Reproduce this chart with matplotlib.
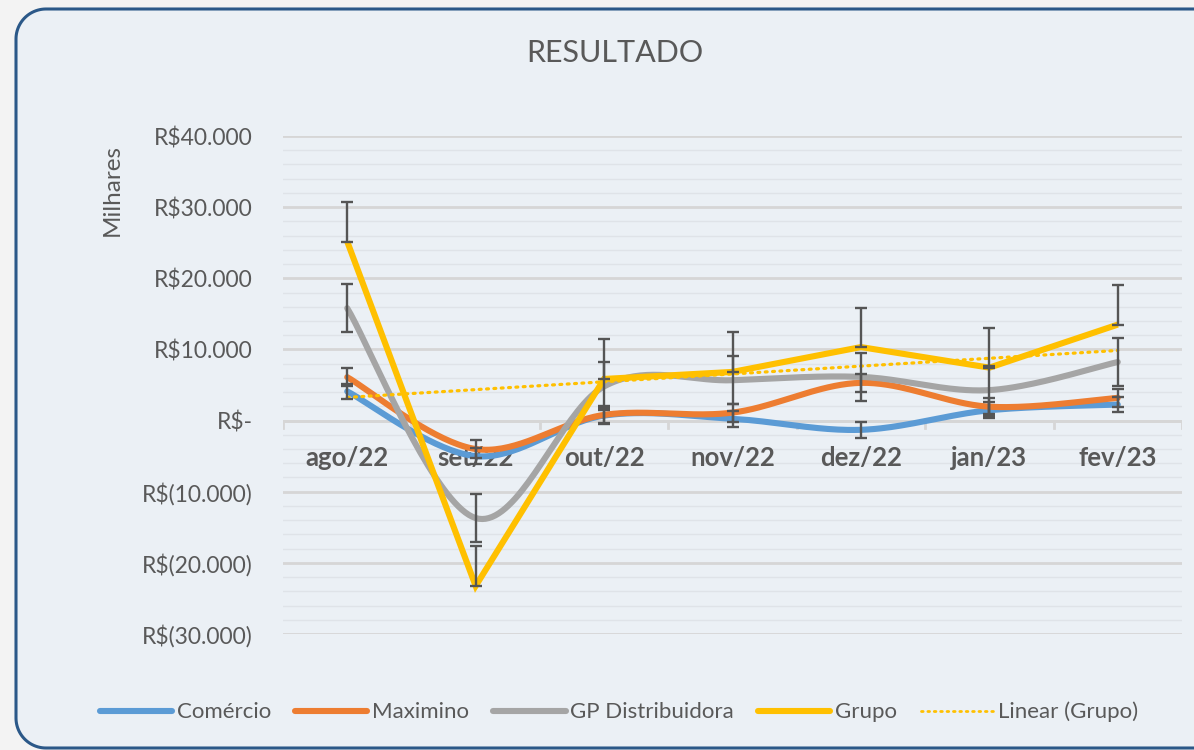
import numpy as np
import matplotlib
matplotlib.use("Agg")
import matplotlib.pyplot as plt
from matplotlib.patches import PathPatch
from matplotlib.path import Path
from matplotlib.lines import Line2D
from matplotlib.ticker import FuncFormatter, MultipleLocator

plt.rcParams['font.family'] = ['Lato', 'DejaVu Sans']

# ---------------- data ----------------
categories = ["ago/22", "set/22", "out/22", "nov/22", "dez/22", "jan/23", "fev/23"]
comercio = [4100, -5000, 700, 250, -1300, 1450, 2250]
maximino = [6100, -4000, 800, 1120, 5300, 1950, 3200]
gp_distribuidora = [15800, -13700, 4800, 5670, 6140, 4280, 8230]
grupo = [25170, -23250, 5850, 6840, 10330, 7440, 13490]
series_names = ["Comércio", "Maximino", "GP Distribuidora", "Grupo"]
series_colors = ["#5b9bd5", "#ed7d31", "#a5a5a5", "#ffc000"]
yticks = [-30000, -20000, -10000, 0, 10000, 20000, 30000, 40000]

TXT = "#595959"


def fmt(v, pos=None):
    if v == 0:
        return "R$-"
    s = f"{abs(int(v)):,}".replace(",", ".")
    return f"R${s}" if v > 0 else f"R$({s})"


def smooth(xs, ys, n=40):
    """Excel-like smoothed line: cubic Bezier with Catmull-Rom control points."""
    xs = np.asarray(xs, float)
    ys = np.asarray(ys, float)
    P = np.column_stack([xs, ys])
    out = []
    for i in range(len(P) - 1):
        p0 = P[i - 1] if i > 0 else P[i]
        p1 = P[i]
        p2 = P[i + 1]
        p3 = P[i + 2] if i + 2 < len(P) else P[i + 1]
        c1 = p1 + (p2 - p0) / 6.0
        c2 = p2 - (p3 - p1) / 6.0
        t = np.linspace(0, 1, n)[:, None]
        seg = ((1 - t) ** 3) * p1 + 3 * ((1 - t) ** 2) * t * c1 + 3 * (1 - t) * t ** 2 * c2 + t ** 3 * p2
        out.append(seg if i == 0 else seg[1:])
    out = np.vstack(out)
    return out[:, 0], out[:, 1]


def open_box(x0, y0, x1, y1, r):
    """Left part of a rounded frame (pixel coords, y down); right side runs off the canvas."""
    pts = [(x1, y0)]
    for a in np.linspace(1.5 * np.pi, np.pi, 24):      # top-left corner
        pts.append((x0 + r + r * np.cos(a), y0 + r + r * np.sin(a)))
    for a in np.linspace(np.pi, 0.5 * np.pi, 24):      # bottom-left corner
        pts.append((x0 + r + r * np.cos(a), y1 - r + r * np.sin(a)))
    pts.append((x1, y1))
    return np.array(pts)


W, H = 1194, 750
fig = plt.figure(figsize=(W / 100, H / 100), dpi=100)
fig.patch.set_facecolor("#f3f3f3")

# background axes in pixel coordinates for the rounded chart box
bg = fig.add_axes([0, 0, 1, 1], zorder=-5)
bg.set_xlim(0, W)
bg.set_ylim(H, 0)
bg.axis("off")
frame = open_box(16, 9, W + 40, 748, 30)
bg.fill(frame[:, 0], frame[:, 1], color="#ebf0f5", lw=0, clip_on=False)
bg.plot(frame[:, 0], frame[:, 1], color="#2b5888", lw=2.2, clip_on=False,
        solid_joinstyle="round")

L, R, T, B = 283, 1182, 136, 634
ax = fig.add_axes([L / W, 1 - B / H, (R - L) / W, (B - T) / H], zorder=1)
ax.set_facecolor("none")
for s in ax.spines.values():
    s.set_visible(False)

x = np.arange(len(categories))
ax.set_xlim(-0.5, len(categories) - 0.5)
ax.set_ylim(-30000, 40000)

# gridlines
ax.set_yticks(yticks)
ax.yaxis.set_minor_locator(MultipleLocator(2000))
ax.grid(axis="y", which="minor", color="#dfe3e8", linewidth=1.0, zorder=1)
ax.grid(axis="y", which="major", color="#d6d6d6", linewidth=2.0, zorder=1)
ax.set_axisbelow(True)
ax.tick_params(axis="y", which="both", length=0, pad=22, labelsize=16.5, labelcolor=TXT)
ax.tick_params(axis="y", which="minor", labelleft=False)
ax.yaxis.set_major_formatter(FuncFormatter(fmt))
ax.set_xticks([])

# category axis at zero
ax.axhline(0, color="#d6d6d6", linewidth=2.0, zorder=1.5)
for b in np.arange(-0.5, len(categories), 1.0):
    ax.plot([b, b], [0, -1100], color="#d6d6d6", linewidth=2.0, zorder=1.5)
for i, c in enumerate(categories):
    ax.annotate(c, xy=(i, 0), xytext=(0, -27), textcoords="offset points",
                ha="center", va="center", fontsize=18.5, fontweight="bold", color=TXT, zorder=2)

all_series = [comercio, maximino, gp_distribuidora, grupo]
for k, (ys, col) in enumerate(zip(all_series, series_colors)):
    if k < 3:
        sx, sy = smooth(x, ys)
        ax.plot(sx, sy, color=col, linewidth=4.4, solid_capstyle="round", zorder=3 + k)
    else:
        ax.plot(x, ys, color=col, linewidth=4.4, solid_joinstyle="miter", solid_capstyle="butt", zorder=3 + k)

# linear trendline of Grupo
coef = np.polyfit(x, grupo, 1)
ax.plot(x, np.polyval(coef, x), color="#ffc000", linewidth=2.3, linestyle=(0, (0.6, 1.7)),
        dash_capstyle="round", zorder=8)

# standard-error bars
for k, ys in enumerate(all_series):
    ys = np.asarray(ys, float)
    se = np.std(ys, ddof=1) / np.sqrt(len(ys))
    if k == 3:
        yerr = [np.zeros_like(ys), np.full_like(ys, se)]
    else:
        yerr = se
    ax.errorbar(x, ys, yerr=yerr, fmt="none", ecolor="#555555", elinewidth=1.7,
                capsize=4.5, capthick=1.7, zorder=9)

# title & y label
fig.text(615 / W, 1 - 53 / H, "RESULTADO", ha="center", va="center", fontsize=22, color=TXT)
fig.text(112 / W, 1 - 190 / H, "Milhares", ha="center", va="center", rotation=90,
         fontsize=17.5, color=TXT)

# legend
handles = [Line2D([], [], color=c, linewidth=4.4, solid_capstyle="round") for c in series_colors]
handles.append(Line2D([], [], color="#ffc000", linewidth=2.0, linestyle=(0, (0.6, 1.7)), dash_capstyle="round"))
labels = series_names + ["Linear (Grupo)"]
leg = fig.legend(handles, labels, loc="center", bbox_to_anchor=(619 / W, 1 - 712 / H), ncol=5,
                 frameon=False, fontsize=16, handlelength=3.25, handletextpad=0.2,
                 columnspacing=1.1, labelcolor=TXT)

fig.savefig("out.png", dpi=100, facecolor=fig.get_facecolor())
